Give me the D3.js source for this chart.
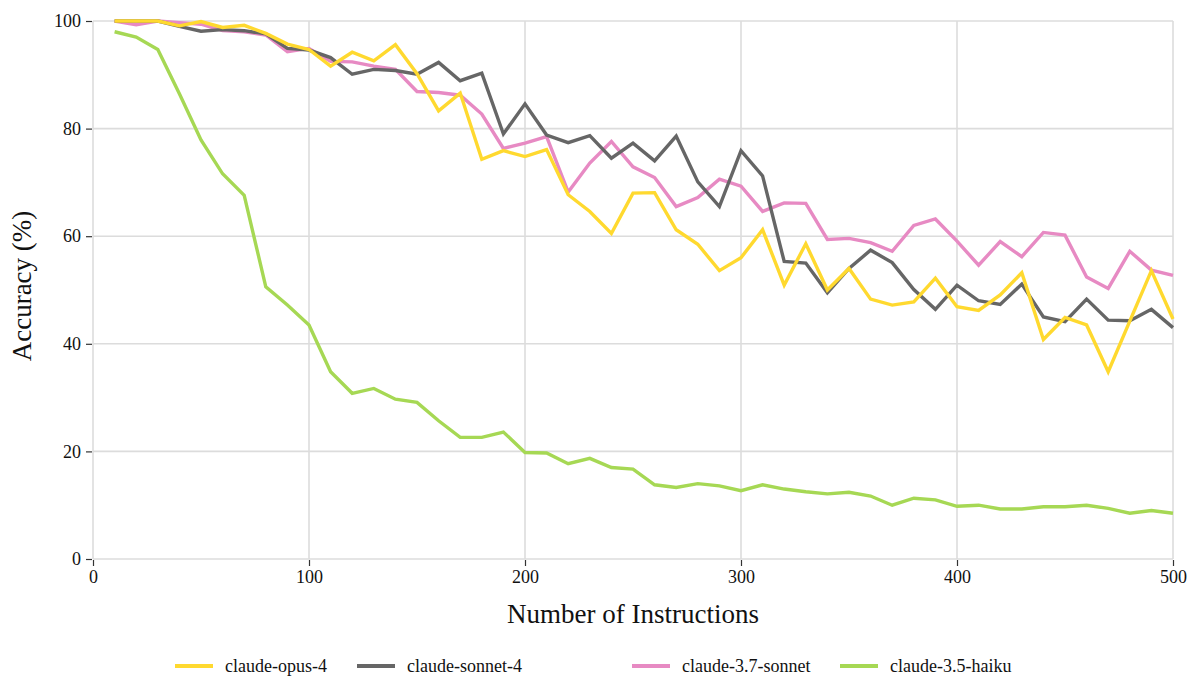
<!DOCTYPE html>
<html lang="en">
<head>
<meta charset="utf-8">
<title>Accuracy vs Number of Instructions</title>
<script src="https://cdn.jsdelivr.net/npm/d3@7"></script>
<style>
  body { margin: 0; background: #fff; }
  svg text { font-family: "Liberation Serif", "DejaVu Serif", serif; fill: #111; font-variant-numeric: oldstyle-nums; }
</style>
</head>
<body>
<script>
// x positions (number of instructions)
var instructions = d3.range(10, 501, 10);

var opus4 = [100, 100, 100, 99.1, 99.9, 98.8, 99.2, 97.7, 95.7, 94.7,
             91.6, 94.2, 92.6, 95.6, 90.2, 83.3, 86.6, 74.3, 75.9, 74.8,
             76.1, 67.7, 64.6, 60.5, 68.0, 68.1, 61.2, 58.5, 53.6, 56.0,
             61.2, 50.9, 58.6, 50.0, 54.0, 48.3, 47.2, 47.8, 52.2, 46.9,
             46.2, 49.1, 53.2, 40.8, 44.9, 43.5, 34.8, 44.2, 53.6, 44.6];
var sonnet4 = [100, 100, 100, 99.0, 98.1, 98.4, 98.2, 97.6, 94.9, 94.6,
               93.2, 90.1, 91.0, 90.8, 90.1, 92.3, 88.9, 90.3, 79.0, 84.6,
               78.8, 77.4, 78.7, 74.5, 77.3, 74.0, 78.6, 70.1, 65.5, 75.9,
               71.2, 55.3, 55.0, 49.5, 54.0, 57.4, 55.1, 50.1, 46.4, 50.9,
               48.0, 47.3, 51.1, 45.0, 44.1, 48.3, 44.4, 44.3, 46.4, 43.0];
var sonnet37 = [100, 99.3, 100, 99.7, 99.4, 98.2, 98.0, 97.4, 94.3, 94.9,
                92.5, 92.4, 91.6, 91.0, 86.9, 86.7, 86.2, 82.7, 76.3, 77.3,
                78.5, 68.2, 73.6, 77.6, 72.9, 70.9, 65.5, 67.2, 70.6, 69.3,
                64.6, 66.2, 66.1, 59.4, 59.6, 58.8, 57.2, 62.0, 63.2, 59.1,
                54.6, 59.0, 56.2, 60.7, 60.2, 52.4, 50.3, 57.2, 53.7, 52.7];
var haiku35 = [98.0, 97.0, 94.7, 86.5, 77.9, 71.6, 67.6, 50.6, 47.2, 43.5,
               34.8, 30.8, 31.7, 29.7, 29.1, 25.7, 22.6, 22.6, 23.6, 19.8,
               19.7, 17.7, 18.7, 17.0, 16.7, 13.8, 13.3, 14.0, 13.6, 12.7,
               13.8, 13.0, 12.5, 12.1, 12.4, 11.7, 10.0, 11.3, 11.0, 9.8,
               10.0, 9.3, 9.3, 9.7, 9.7, 10.0, 9.4, 8.5, 9.0, 8.5];

var seriesNames = ["claude-opus-4", "claude-sonnet-4", "claude-3.7-sonnet", "claude-3.5-haiku"];
var seriesColors = ["#ffd92f", "#666666", "#e78ac3", "#a6d854"];
var seriesValues = [opus4, sonnet4, sonnet37, haiku35];

var xTicks = [0, 100, 200, 300, 400, 500];
var yTicks = [0, 20, 40, 60, 80, 100];

var width = 1200, height = 697;
var margin = { top: 21, right: 27, bottom: 138, left: 93 };

var svg = d3.select("body").append("svg")
  .attr("width", width)
  .attr("height", height);

var x = d3.scaleLinear().domain([0, 500]).range([margin.left, width - margin.right]);
var y = d3.scaleLinear().domain([0, 100]).range([height - margin.bottom, margin.top]);

// grid lines
svg.append("g").selectAll("line").data(yTicks).enter().append("line")
  .attr("x1", x(0)).attr("x2", x(500))
  .attr("y1", function(d) { return y(d); }).attr("y2", function(d) { return y(d); })
  .attr("stroke", "#dcdcdc").attr("stroke-width", 1.6);
svg.append("g").selectAll("line").data(xTicks).enter().append("line")
  .attr("y1", y(0)).attr("y2", y(100))
  .attr("x1", function(d) { return x(d); }).attr("x2", function(d) { return x(d); })
  .attr("stroke", "#dcdcdc").attr("stroke-width", 1.6);

// axes
var xAxis = svg.append("g")
  .attr("transform", "translate(0," + (y(0) + 1) + ")")
  .call(d3.axisBottom(x).tickValues(xTicks).tickSize(6).tickPadding(4));
var yAxis = svg.append("g")
  .attr("transform", "translate(" + (x(0) - 1) + ",0)")
  .call(d3.axisLeft(y).tickValues(yTicks).tickSize(6).tickPadding(5));
[xAxis, yAxis].forEach(function(a) {
  a.select(".domain").remove();
  a.selectAll(".tick line").attr("stroke", "#333").attr("stroke-width", 1.2);
  a.selectAll(".tick text").attr("font-size", 18).attr("fill", "#111")
    .style("font-family", "'Liberation Serif', serif");
});

// lines (drawn bottom to top: haiku, 3.7 sonnet, sonnet-4, opus-4)
var line = d3.line()
  .x(function(d, i) { return x(instructions[i]); })
  .y(function(d) { return y(d); });

[3, 2, 1, 0].forEach(function(k) {
  svg.append("path")
    .datum(seriesValues[k])
    .attr("fill", "none")
    .attr("stroke", seriesColors[k])
    .attr("stroke-width", 3.4)
    .attr("stroke-linejoin", "miter")
    .attr("d", line);
});

// axis titles
svg.append("text")
  .attr("x", (x(0) + x(500)) / 2).attr("y", 623)
  .attr("text-anchor", "middle").attr("font-size", 27)
  .text("Number of Instructions");
svg.append("text")
  .attr("transform", "translate(31,286) rotate(-90)")
  .attr("text-anchor", "middle").attr("font-size", 27)
  .text("Accuracy (%)");

// legend
var legendX = [175, 357, 632, 840];
var legend = svg.append("g").selectAll("g").data(seriesNames).enter().append("g")
  .attr("transform", function(d, i) { return "translate(" + legendX[i] + ",666)"; });
legend.append("line")
  .attr("x1", 0).attr("x2", 38).attr("y1", 0).attr("y2", 0)
  .attr("stroke", function(d, i) { return seriesColors[i]; })
  .attr("stroke-width", 4);
legend.append("text")
  .attr("x", 50).attr("y", 6)
  .attr("font-size", 18)
  .text(function(d) { return d; });
</script>
</body>
</html>
